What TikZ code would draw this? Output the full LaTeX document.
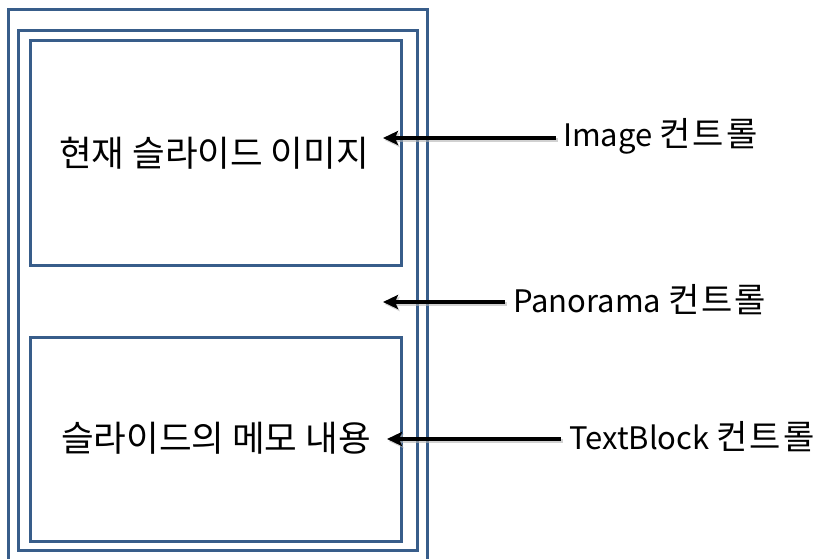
\documentclass[tikz,border=0pt]{standalone}
\usepackage{fontspec}
\setmainfont{Noto Sans CJK KR}
\newfontfamily\krwide[LetterSpace=6]{Noto Sans CJK KR}
\usetikzlibrary{arrows.meta}
\definecolor{boxblue}{HTML}{385D8A}
\newcommand{\ctl}{\hspace{7pt}{\krwide\fontsize{34}{38}\selectfont 컨트롤}}
\tikzset{
  frame/.style={draw=boxblue, line width=3pt},
  boxtext/.style={font=\fontsize{35.5}{40}\selectfont, inner sep=0pt},
  lbl/.style={font=\fontsize{31}{35}\selectfont, inner sep=0pt, anchor=west},
  arr/.style={line width=4pt, -{Stealth[length=15pt,width=14pt,inset=3pt]}},
  arrshadow/.style={line width=4pt, draw=black!30, opacity=0.6, -{Stealth[length=15pt,width=14pt,inset=3pt]}}
}
\begin{document}
\begin{tikzpicture}[x=1pt,y=-1pt]
\useasboundingbox (0,0) rectangle (815,559);
\clip (0,0) rectangle (815,559);
% frames
\draw[frame] (8.5,9.5) rectangle (427,575);
\draw[frame] (18.5,30.5) rectangle (417.5,550.5);
\node[frame, minimum width=371pt, minimum height=224.5pt, inner sep=0pt] (imgbox) at (216,153) {};
\node[frame, minimum width=371pt, minimum height=204pt, inner sep=0pt] (memobox) at (216,439) {};
\node[boxtext] (imgtxt) at (214,153) {현재 슬라이드 이미지};
\node[boxtext] (memotxt) at (216,438) {슬라이드의 메모 내용};
% labels
\node[lbl] (lblA) at (563,136) {Image\ctl};
\node[lbl] (lblB) at (513,300) {Panorama\ctl};
\node[lbl] (lblC) at (569,437) {TextBlock\ctl};
% arrow end points
\coordinate (tipA) at (383,138);
\coordinate (tipB) at (383,302);
\coordinate (tipC) at (387,439);
\coordinate (startA) at (556,138);
\coordinate (startB) at (505,302);
\coordinate (startC) at (561,439);
% shadows
\draw[arrshadow] ([shift={(1.5,2)}]startA) -- ([shift={(1.5,2)}]tipA);
\draw[arrshadow] ([shift={(1.5,2)}]startB) -- ([shift={(1.5,2)}]tipB);
\draw[arrshadow] ([shift={(1.5,2)}]startC) -- ([shift={(1.5,2)}]tipC);
% arrows
\draw[arr] (startA) -- (tipA);
\draw[arr] (startB) -- (tipB);
\draw[arr] (startC) -- (tipC);
\end{tikzpicture}
\end{document}
